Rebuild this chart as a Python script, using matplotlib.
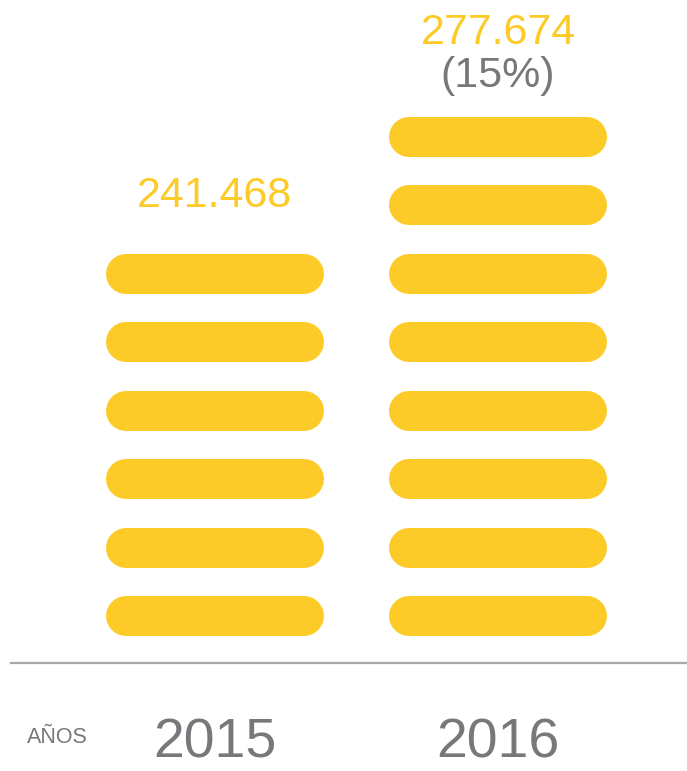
import matplotlib
matplotlib.use("Agg")
import matplotlib.pyplot as plt
from matplotlib.transforms import blended_transform_factory

# ---- data ----
years = ["2015", "2016"]
values = ["241.468", "277.674"]
growth = [None, "(15%)"]
pill_counts = [6, 8]
axis_label = "AÑOS"

# ---- style ----
YELLOW = "#FDCB28"
GRAY = "#77787B"
LINE_GRAY = "#A8A8AB"
FONT = ["Liberation Sans", "DejaVu Sans"]

W, H, DPI = 687, 771, 100
fig = plt.figure(figsize=(W / DPI, H / DPI), dpi=DPI)
ax = fig.add_axes([0, 0, 1, 1])
ax.set_axis_off()

# layout: pixel geometry of category spacing and pill rows
X0_PX, DX_PX = 215, 283      # first category center, category spacing
Y0_PX, DY_PX = 616, 68.5     # bottom pill center, pill spacing
ax.set_xlim(-X0_PX / DX_PX, (W - X0_PX) / DX_PX)
ax.set_ylim((Y0_PX - H) / DY_PX, Y0_PX / DY_PX)

pill_h_px = 40
pill_w_px = 218
half_len = (pill_w_px - pill_h_px) / 2 / DX_PX
lw_pt = pill_h_px * 72 / DPI

for i, n in enumerate(pill_counts):
    for k in range(n):
        ax.plot([i - half_len, i + half_len], [k, k], color=YELLOW,
                lw=lw_pt, solid_capstyle="round")

# baseline axis
ax.axhline((Y0_PX - 663) / DY_PX, xmin=11 / W, xmax=1, color=LINE_GRAY, lw=1.6)

# value labels above top pill
VAL_FS = 31
for i, (n, v, g) in enumerate(zip(pill_counts, values, growth)):
    top = n - 1
    if g is None:
        ax.annotate(v, (i, top), xytext=(0, 66.5 * 72 / DPI), textcoords="offset points",
                    ha="center", va="baseline", color=YELLOW, fontsize=VAL_FS, family=FONT)
    else:
        ax.annotate(g, (i, top), xytext=(0, 49.5 * 72 / DPI), textcoords="offset points",
                    ha="center", va="baseline", color=GRAY, fontsize=VAL_FS, family=FONT)
        ax.annotate(v, (i, top), xytext=(0, 92.5 * 72 / DPI), textcoords="offset points",
                    ha="center", va="baseline", color=YELLOW, fontsize=VAL_FS, family=FONT)

# year labels
trans = blended_transform_factory(ax.transData, fig.transFigure)
for i, y in enumerate(years):
    ax.text(i, 1 - 758 / H, y, transform=trans, ha="center", va="baseline",
            color=GRAY, fontsize=40, family=FONT)

fig.text(27 / W, 1 - 743 / H, axis_label, ha="left", va="baseline",
         color=GRAY, fontsize=15.5, family=FONT)

fig.savefig("out.png", dpi=DPI, facecolor="white")
